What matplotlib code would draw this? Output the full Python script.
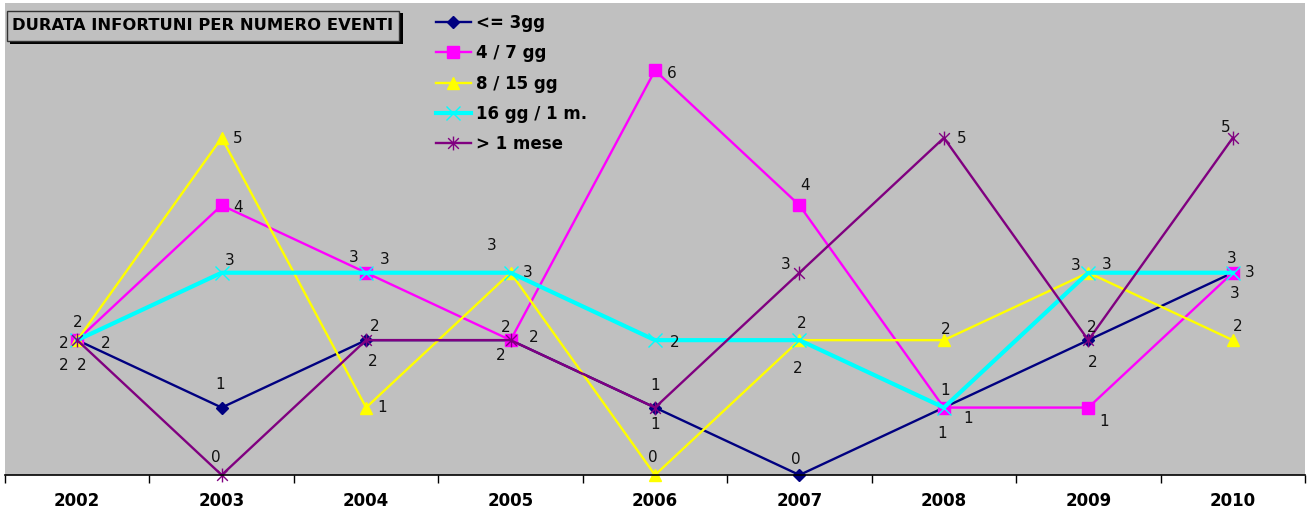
""" durata infortuni per numero eventi, 2002-2010
"""

import numpy as np
import matplotlib
matplotlib.use("Agg")
import matplotlib.pyplot as plt
from matplotlib.path import Path
from matplotlib.patches import Rectangle

years = ["2002", "2003", "2004", "2005", "2006", "2007", "2008", "2009", "2010"]

le_3gg = [2, 1, 2, 2, 1, 0, 1, 2, 3]
gg_4_7 = [2, 4, 3, 2, 6, 4, 1, 1, 3]
gg_8_15 = [2, 5, 1, 3, 0, 2, 2, 3, 2]
gg16_1m = [2, 3, 3, 3, 2, 2, 1, 3, 3]
over_1m = [2, 0, 2, 2, 1, 3, 5, 2, 5]

labels = ["<= 3gg", "4 / 7 gg", "8 / 15 gg", "16 gg / 1 m.", "> 1 mese"]
title = "DURATA INFORTUNI PER NUMERO EVENTI"

# excel style star: an x with a vertical bar
star = Path([(-1, -1), (1, 1), (-1, 1), (1, -1), (0, -1.3), (0, 1.3)],
            [Path.MOVETO, Path.LINETO, Path.MOVETO, Path.LINETO, Path.MOVETO, Path.LINETO])

styles = [
    dict(color="#000080", marker="D", ms=6.5, lw=1.7),
    dict(color="#FF00FF", marker="s", ms=8, lw=1.7),
    dict(color="#FFFF00", marker="^", ms=9, lw=1.7),
    dict(color="#00FFFF", marker="x", ms=10, mew=1.0, lw=3.0),
    dict(color="#800080", marker=star, ms=10, mew=1.0, lw=1.7),
]

# data label offsets in pixels (dx, dy), placed by hand like in the sheet
offsets = [
    [(0, 18), (-2, 23), (9, 14), (-5, 13), (0, 22), (-4, 15), (1, 17), (3, 13), (-1, 14)],
    [(-14, -3), (16, -2), (-12, 15), (23, 3), (17, -3), (6, 20), (24, -11), (16, -14), (2, -21)],
    [(28, -3), (16, -1), (16, 0), (-19, 27), (-2, 17), (2, 17), (2, 11), (-13, 7), (5, 14)],
    [(-14, -25), (8, 12), (19, 13), (17, 0), (20, -2), (-2, -28), (-2, -26), (18, 8), (17, 0)],
    [(4, -25), (-6, 17), (7, -21), (-10, -15), (0, -17), (-14, 8), (18, -1), (4, -22), (-7, 10)],
]

series = [le_3gg, gg_4_7, gg_8_15, gg16_1m, over_1m]

fig = plt.figure(figsize=(13.1, 5.12), dpi=100)
ax = fig.add_axes([5 / 1310, 37 / 512, 1300 / 1310, 472 / 512])
ax.set_facecolor("#C0C0C0")

x = np.arange(len(years))
for vals, lab, st, offs in zip(series, labels, styles, offsets):
    ax.plot(x, vals, label=lab, clip_on=False, **st)
    for xi, v, (dx, dy) in zip(x, vals, offs):
        ax.annotate(str(v), (xi, v), xytext=(dx, dy), textcoords="offset pixels",
                    ha="center", va="center", fontsize=11, color="#111111",
                    annotation_clip=False)

ax.set_xlim(-0.5, len(years) - 0.5)
ax.set_ylim(0, 7)
ax.set_yticks([])
for s in ["left", "right", "top"]:
    ax.spines[s].set_visible(False)
ax.spines["bottom"].set_linewidth(1.2)
ax.set_xticks(x)
ax.set_xticklabels(years, fontsize=12, fontweight="bold")
ax.tick_params(axis="x", which="major", length=0, pad=12)
ax.set_xticks(np.arange(len(years) + 1) - 0.5, minor=True)
ax.tick_params(axis="x", which="minor", length=6, width=1, direction="out")

leg = ax.legend(loc="upper left", bbox_to_anchor=(436 / 1310, 1 - 14 / 512),
                bbox_transform=fig.transFigure, frameon=False,
                prop=dict(weight="bold", size=12), labelspacing=0.74,
                handlelength=2.1, handletextpad=0.3, borderaxespad=0,
                borderpad=0)

# title box with shadow
W, H = 1310, 512
fig.patches.append(Rectangle((10 / W, 1 - 44 / H), 393 / W, 31 / H,
                             transform=fig.transFigure, facecolor="black",
                             edgecolor="none", zorder=5))
fig.patches.append(Rectangle((7 / W, 1 - 41 / H), 392 / W, 30 / H,
                             transform=fig.transFigure, facecolor="#C0C0C0",
                             edgecolor="#333333", lw=1, zorder=6))
fig.text(203 / W, 1 - 26 / H, title, ha="center", va="center",
         fontsize=11.8, fontweight="bold", zorder=7)

fig.savefig("out.png", dpi=100)
